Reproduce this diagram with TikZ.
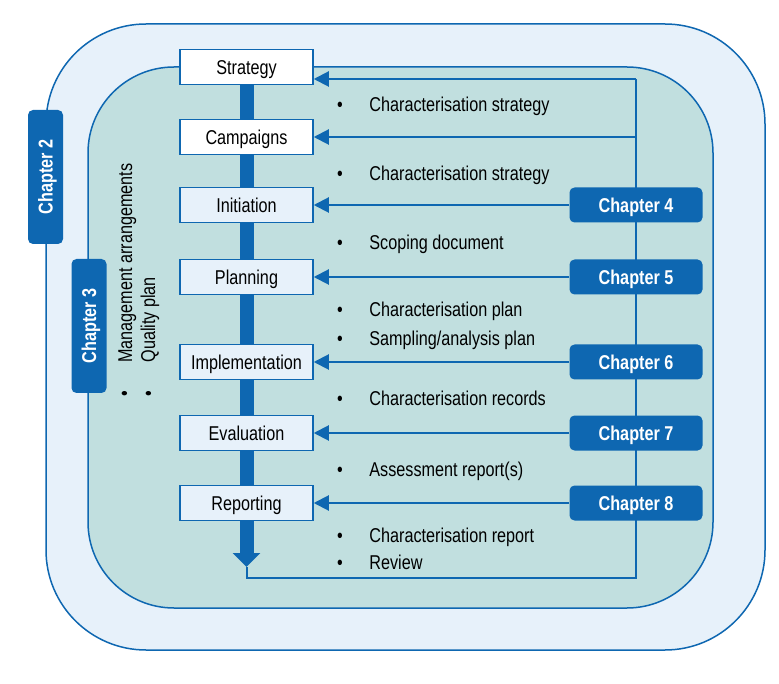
\documentclass[tikz,border=0pt]{standalone}
\usepackage{fontspec}
\setmainfont{Liberation Sans}[FakeStretch=0.81]
\usetikzlibrary{arrows.meta}
\definecolor{chblue}{RGB}{14,103,177}
\definecolor{paleblue}{RGB}{231,241,250}
\definecolor{innerfill}{RGB}{193,223,223}

\begin{document}
\begin{tikzpicture}[x=1pt, y=-1pt, thick, font=\fontsize{20}{23}\selectfont,
  frame/.style = {draw=chblue, line width=1.5pt, inner sep=0pt},
  stage/.style = {draw=chblue, line width=1.5pt, fill=paleblue, minimum width=133pt, minimum height=35pt, inner sep=0pt, text height=18.3pt, text depth=4pt},
  chap/.style = {fill=chblue, rounded corners=5pt, text=white, font=\fontsize{20}{23}\selectfont\bfseries, minimum width=133pt, minimum height=35pt, inner sep=0pt, text height=18.3pt, text depth=4pt},
  bar/.style = {draw=chblue, line width=14pt},
  link/.style = {draw=chblue, line width=2pt},
  feed/.style = {link, -{Triangle[length=15pt,width=15pt]}},
  item/.style = {anchor=base west, inner sep=0pt},
  dot/.style = {anchor=base, inner sep=0pt}]
      \useasboundingbox (0,0) rectangle (779,684);
      \node[frame, fill=paleblue, rounded corners=100pt, minimum width=719pt, minimum height=626pt] (outer) at (405.5,337) {};
      \node[frame, fill=innerfill, rounded corners=86pt, minimum width=625pt, minimum height=541pt] (inner) at (400.5,337.5) {};
      \node[stage, fill=white] (1) at (246.5,67) {Strategy};
      \node[stage, fill=white] (2) at (246.5,137) {Campaigns};
      \node[stage] (3) at (246.5,205) {Initiation};
      \node[stage] (4) at (246.5,277) {Planning};
      \node[stage] (5) at (246.5,362) {Implementation};
      \node[stage] (6) at (246.5,433) {Evaluation};
      \node[stage] (7) at (246.5,503) {Reporting};
      \coordinate (tip) at (246.5,567);
      \coordinate (bottom) at (246.5,578);
      \coordinate (corner) at (636,79);
      \draw[bar] (1) -- (2);
      \draw[bar] (2) -- (3);
      \draw[bar] (3) -- (4);
      \draw[bar] (4) -- (5);
      \draw[bar] (5) -- (6);
      \draw[bar] (6) -- (7);
      \draw[bar, -{Triangle[length=14pt,width=27pt]}] (7) -- (tip);
      \draw[link] (tip) -- (bottom) -| (corner);
      \draw[feed] (corner) -- (1.east |- corner);
      \draw[feed] (2 -| corner) -- (2);
      \node[chap] (c4) at (636,205) {Chapter 4};
      \node[chap] (c5) at (636,277) {Chapter 5};
      \node[chap] (c6) at (636,362) {Chapter 6};
      \node[chap] (c7) at (636,433) {Chapter 7};
      \node[chap] (c8) at (636,503) {Chapter 8};
      \draw[feed] (c4) -- (3);
      \draw[feed] (c5) -- (4);
      \draw[feed] (c6) -- (5);
      \draw[feed] (c7) -- (6);
      \draw[feed] (c8) -- (7);
      \node[chap, rotate=90, minimum width=134pt] (c2) at (45.5,177) {Chapter 2};
      \node[chap, rotate=90, minimum width=134pt] (c3) at (89,326) {Chapter 3};
      % rotated list beside the stages
      \node[dot, rotate=90] (m0) at (131,394) {•};
      \node[dot, rotate=90] (q0) at (155,394) {•};
      \node[item, rotate=90] (m1) at (132,363) {Management arrangements};
      \node[item, rotate=90] (q1) at (155,363) {Quality plan};
      % outputs of each stage
      \node[dot] (d1) at (340,112) {•};
      \node[item] (t1) at (369,112) {Characterisation strategy};
      \node[dot] (d2) at (340,181) {•};
      \node[item] (t2) at (369,181) {Characterisation strategy};
      \node[dot] (d3) at (340,250) {•};
      \node[item] (t3) at (369,250) {Scoping document};
      \node[dot] (d4) at (340,317) {•};
      \node[item] (t4) at (369,317) {Characterisation plan};
      \node[dot] (d5) at (340,346) {•};
      \node[item] (t5) at (369,346) {Sampling/analysis plan};
      \node[dot] (d6) at (340,406) {•};
      \node[item] (t6) at (369,406) {Characterisation records};
      \node[dot] (d7) at (340,476) {•};
      \node[item] (t7) at (369,476) {Assessment report(s)};
      \node[dot] (d8) at (340,542) {•};
      \node[item] (t8) at (369,542) {Characterisation report};
      \node[dot] (d9) at (340,569) {•};
      \node[item] (t9) at (369,569) {Review};
\end{tikzpicture}
\end{document}
